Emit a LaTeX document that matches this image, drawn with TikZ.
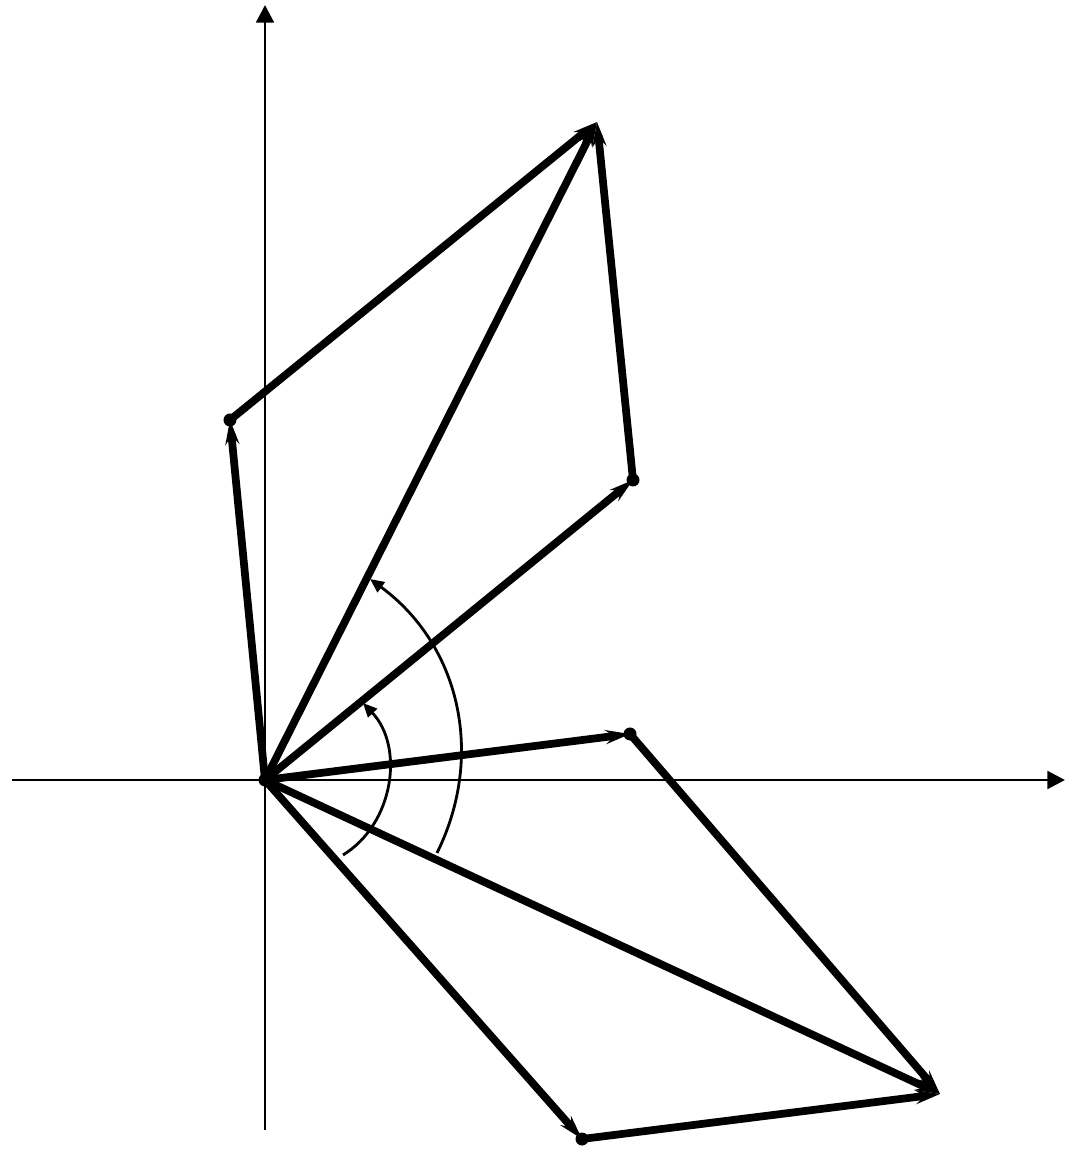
\documentclass[tikz,border=0pt]{standalone}
\usetikzlibrary{
    arrows.meta
}
\def\dotsize{0.065}
\tikzset{
    axis/.style={
        line width=0.85pt,
        -{Triangle[length=5pt,width=5pt]},
    },
    vec/.style={
        line width=2.2pt,
        -{Stealth[length=7pt,width=4pt,inset=2.5pt]},
    },
    turn/.style={
        line width=0.8pt,
        -{Triangle[length=4pt,width=3.5pt]},
    },
}

\begin{document}
\begin{tikzpicture}
        \useasboundingbox (-2.65,-3.78) rectangle (8.05,7.80);

        % axes
        \coordinate (O) at (0,0);
        \coordinate (xl) at (-2.53,0);
        \coordinate (xr) at (8.00,0);
        \coordinate (yb) at (0,-3.50);
        \coordinate (yt) at (0,7.75);
        \draw [axis](xl) -- (xr);
        \draw [axis](yb) -- (yt);

        % first parallelogram
        \coordinate (a) at (3.65,0.46);
        \coordinate (b) at (3.17,-3.59);
        \coordinate (c) at (6.75,-3.14);
        % second parallelogram
        \coordinate (a2) at (3.68,3.00);
        \coordinate (b2) at (-0.35,3.60);
        \coordinate (c2) at (3.32,6.58);

        \draw [vec](O) to (a);
        \draw [vec](O) to (b);
        \draw [vec](O) to (c);
        \draw [vec](a) to (c);
        \draw [vec](b) to (c);

        \draw [vec](O) to (a2);
        \draw [vec](O) to (b2);
        \draw [vec](O) to (c2);
        \draw [vec](a2) to (c2);
        \draw [vec](b2) to (c2);

        \foreach \p in {O,a,b,a2,b2}{
            \fill (\p) circle (\dotsize);
        }

        % angles
        \coordinate (s1) at (0.78,-0.75);
        \coordinate (e1) at (0.98,0.77);
        \coordinate (s2) at (1.72,-0.73);
        \coordinate (e2) at (1.05,2.01);
        \draw [turn](s1) to[bend right=51] (e1);
        \draw [turn](s2) to[bend right=40] (e2);

    \end{tikzpicture}
\end{document}
